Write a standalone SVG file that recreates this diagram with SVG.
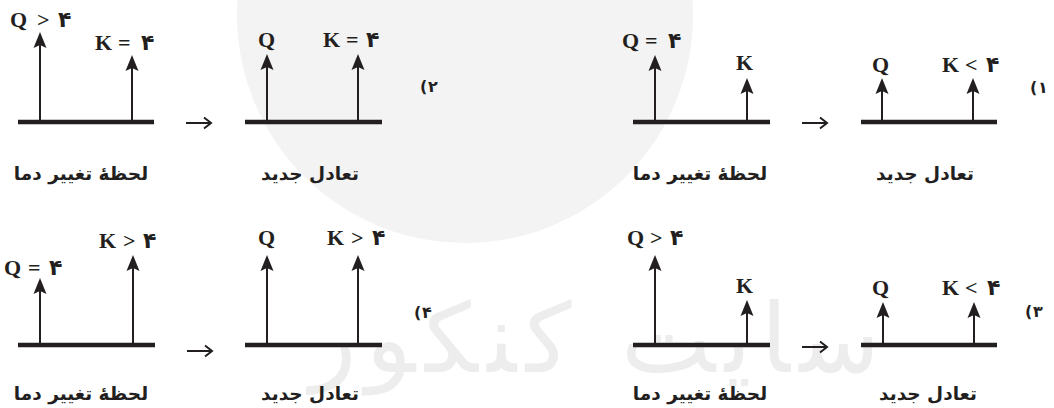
<svg xmlns="http://www.w3.org/2000/svg" width="1054" height="408" viewBox="0 0 1054 408">
<style>
.base{stroke:#231f20;stroke-width:4.5;fill:none}
.ar{stroke:#231f20;stroke-width:2;fill:none;marker-end:url(#ah)}
.tr{stroke:#231f20;stroke-width:2;fill:none}
.lt{font-family:"Liberation Serif","DejaVu Sans",serif;font-weight:bold;font-size:22px;fill:#231f20}
.fa{font-family:"DejaVu Sans",sans-serif;font-weight:bold;font-size:18.5px;fill:#231f20;text-anchor:middle}
.num{font-family:"DejaVu Sans",sans-serif;font-weight:bold;font-size:16px;fill:#231f20}
.wm{font-family:"DejaVu Sans",sans-serif;font-size:96px;fill:#ededed}
</style>
<defs>
<marker id="ah" markerUnits="userSpaceOnUse" markerWidth="20" markerHeight="16" viewBox="0 -8 20 16" refX="6" refY="0" orient="auto">
<path d="M16,0 L0,-6.5 L3,0 L0,6.5 Z" fill="#231f20"/>
</marker>
</defs>
<g id="watermark">
<circle cx="465" cy="15" r="228" fill="#f3f3f3"/>
<text class="wm" x="595" y="372" text-anchor="middle" textLength="570">سایت کنکور</text>
</g>
<g id="connectors">
<path class="tr" d="M186,123 H211 M204,117.5 L211,123 L204,128.5"/>
<path class="tr" d="M802,123 H827 M820,117.5 L827,123 L820,128.5"/>
<path class="tr" d="M187,351 H212 M205,345.5 L212,351 L205,356.5"/>
<path class="tr" d="M802,347 H827 M820,341.5 L827,347 L820,352.5"/>
</g>
<g id="panel-a">
<line class="base" x1="18" y1="122" x2="154" y2="122"/>
<line class="ar" x1="40" y1="122" x2="40" y2="42"/>
<line class="ar" x1="132" y1="122" x2="132" y2="65"/>
<text class="lt" y="27"><tspan x="10">Q</tspan><tspan x="37">&gt;</tspan><tspan x="58">۴</tspan></text>
<text class="lt" y="50"><tspan x="95">K</tspan><tspan x="118">=</tspan><tspan x="141">۴</tspan></text>
<text class="fa" x="81" y="180">لحظهٔ تغییر دما</text>
</g>
<g id="panel-b">
<line class="base" x1="245" y1="122" x2="382" y2="122"/>
<line class="ar" x1="267" y1="122" x2="267" y2="64"/>
<line class="ar" x1="358" y1="122" x2="358" y2="64"/>
<text class="lt" y="47"><tspan x="258">Q</tspan></text>
<text class="lt" y="47"><tspan x="323">K</tspan><tspan x="346">=</tspan><tspan x="366">۴</tspan></text>
<text class="num" x="420" y="92">(</text><text class="num" x="428" y="92">۲</text>
<text class="fa" x="310" y="180">تعادل جدید</text>
</g>
<g id="panel-c">
<line class="base" x1="633" y1="122" x2="770" y2="122"/>
<line class="ar" x1="655" y1="122" x2="655" y2="65"/>
<line class="ar" x1="747" y1="122" x2="747" y2="88"/>
<text class="lt" y="48"><tspan x="622">Q</tspan><tspan x="645">=</tspan><tspan x="668">۴</tspan></text>
<text class="lt" y="70"><tspan x="736">K</tspan></text>
<text class="fa" x="700" y="180">لحظهٔ تغییر دما</text>
</g>
<g id="panel-d">
<line class="base" x1="861" y1="122" x2="997" y2="122"/>
<line class="ar" x1="882" y1="122" x2="882" y2="88"/>
<line class="ar" x1="973" y1="122" x2="973" y2="88"/>
<text class="lt" y="72"><tspan x="872">Q</tspan></text>
<text class="lt" y="72"><tspan x="942">K</tspan><tspan x="965">&lt;</tspan><tspan x="986">۴</tspan></text>
<text class="num" x="1030" y="93">(</text><text class="num" x="1038" y="93">۱</text>
<text class="fa" x="925" y="180">تعادل جدید</text>
</g>
<g id="panel-e">
<line class="base" x1="18" y1="345" x2="155" y2="345"/>
<line class="ar" x1="40" y1="345" x2="40" y2="288"/>
<line class="ar" x1="133" y1="345" x2="133" y2="265"/>
<text class="lt" y="248"><tspan x="99">K</tspan><tspan x="123">&gt;</tspan><tspan x="143">۴</tspan></text>
<text class="lt" y="275"><tspan x="4">Q</tspan><tspan x="28">=</tspan><tspan x="49">۴</tspan></text>
<text class="fa" x="81" y="400">لحظهٔ تغییر دما</text>
</g>
<g id="panel-f">
<line class="base" x1="245" y1="345" x2="382" y2="345"/>
<line class="ar" x1="267" y1="345" x2="267" y2="265"/>
<line class="ar" x1="358" y1="345" x2="358" y2="265"/>
<text class="lt" y="245"><tspan x="258">Q</tspan></text>
<text class="lt" y="245"><tspan x="327">K</tspan><tspan x="351">&gt;</tspan><tspan x="372">۴</tspan></text>
<text class="num" x="414" y="318">(</text><text class="num" x="422" y="318">۴</text>
<text class="fa" x="310" y="400">تعادل جدید</text>
</g>
<g id="panel-g">
<line class="base" x1="633" y1="345" x2="770" y2="345"/>
<line class="ar" x1="655" y1="345" x2="655" y2="265"/>
<line class="ar" x1="747" y1="345" x2="747" y2="310"/>
<text class="lt" y="245"><tspan x="627">Q</tspan><tspan x="650">&gt;</tspan><tspan x="670">۴</tspan></text>
<text class="lt" y="293"><tspan x="736">K</tspan></text>
<text class="fa" x="700" y="400">لحظهٔ تغییر دما</text>
</g>
<g id="panel-h">
<line class="base" x1="861" y1="345" x2="997" y2="345"/>
<line class="ar" x1="883" y1="345" x2="883" y2="312"/>
<line class="ar" x1="974" y1="345" x2="974" y2="312"/>
<text class="lt" y="295"><tspan x="872">Q</tspan></text>
<text class="lt" y="295"><tspan x="942">K</tspan><tspan x="965">&lt;</tspan><tspan x="987">۴</tspan></text>
<text class="num" x="1025" y="317">(</text><text class="num" x="1033" y="317">۳</text>
<text class="fa" x="928" y="400">تعادل جدید</text>
</g>
</svg>
